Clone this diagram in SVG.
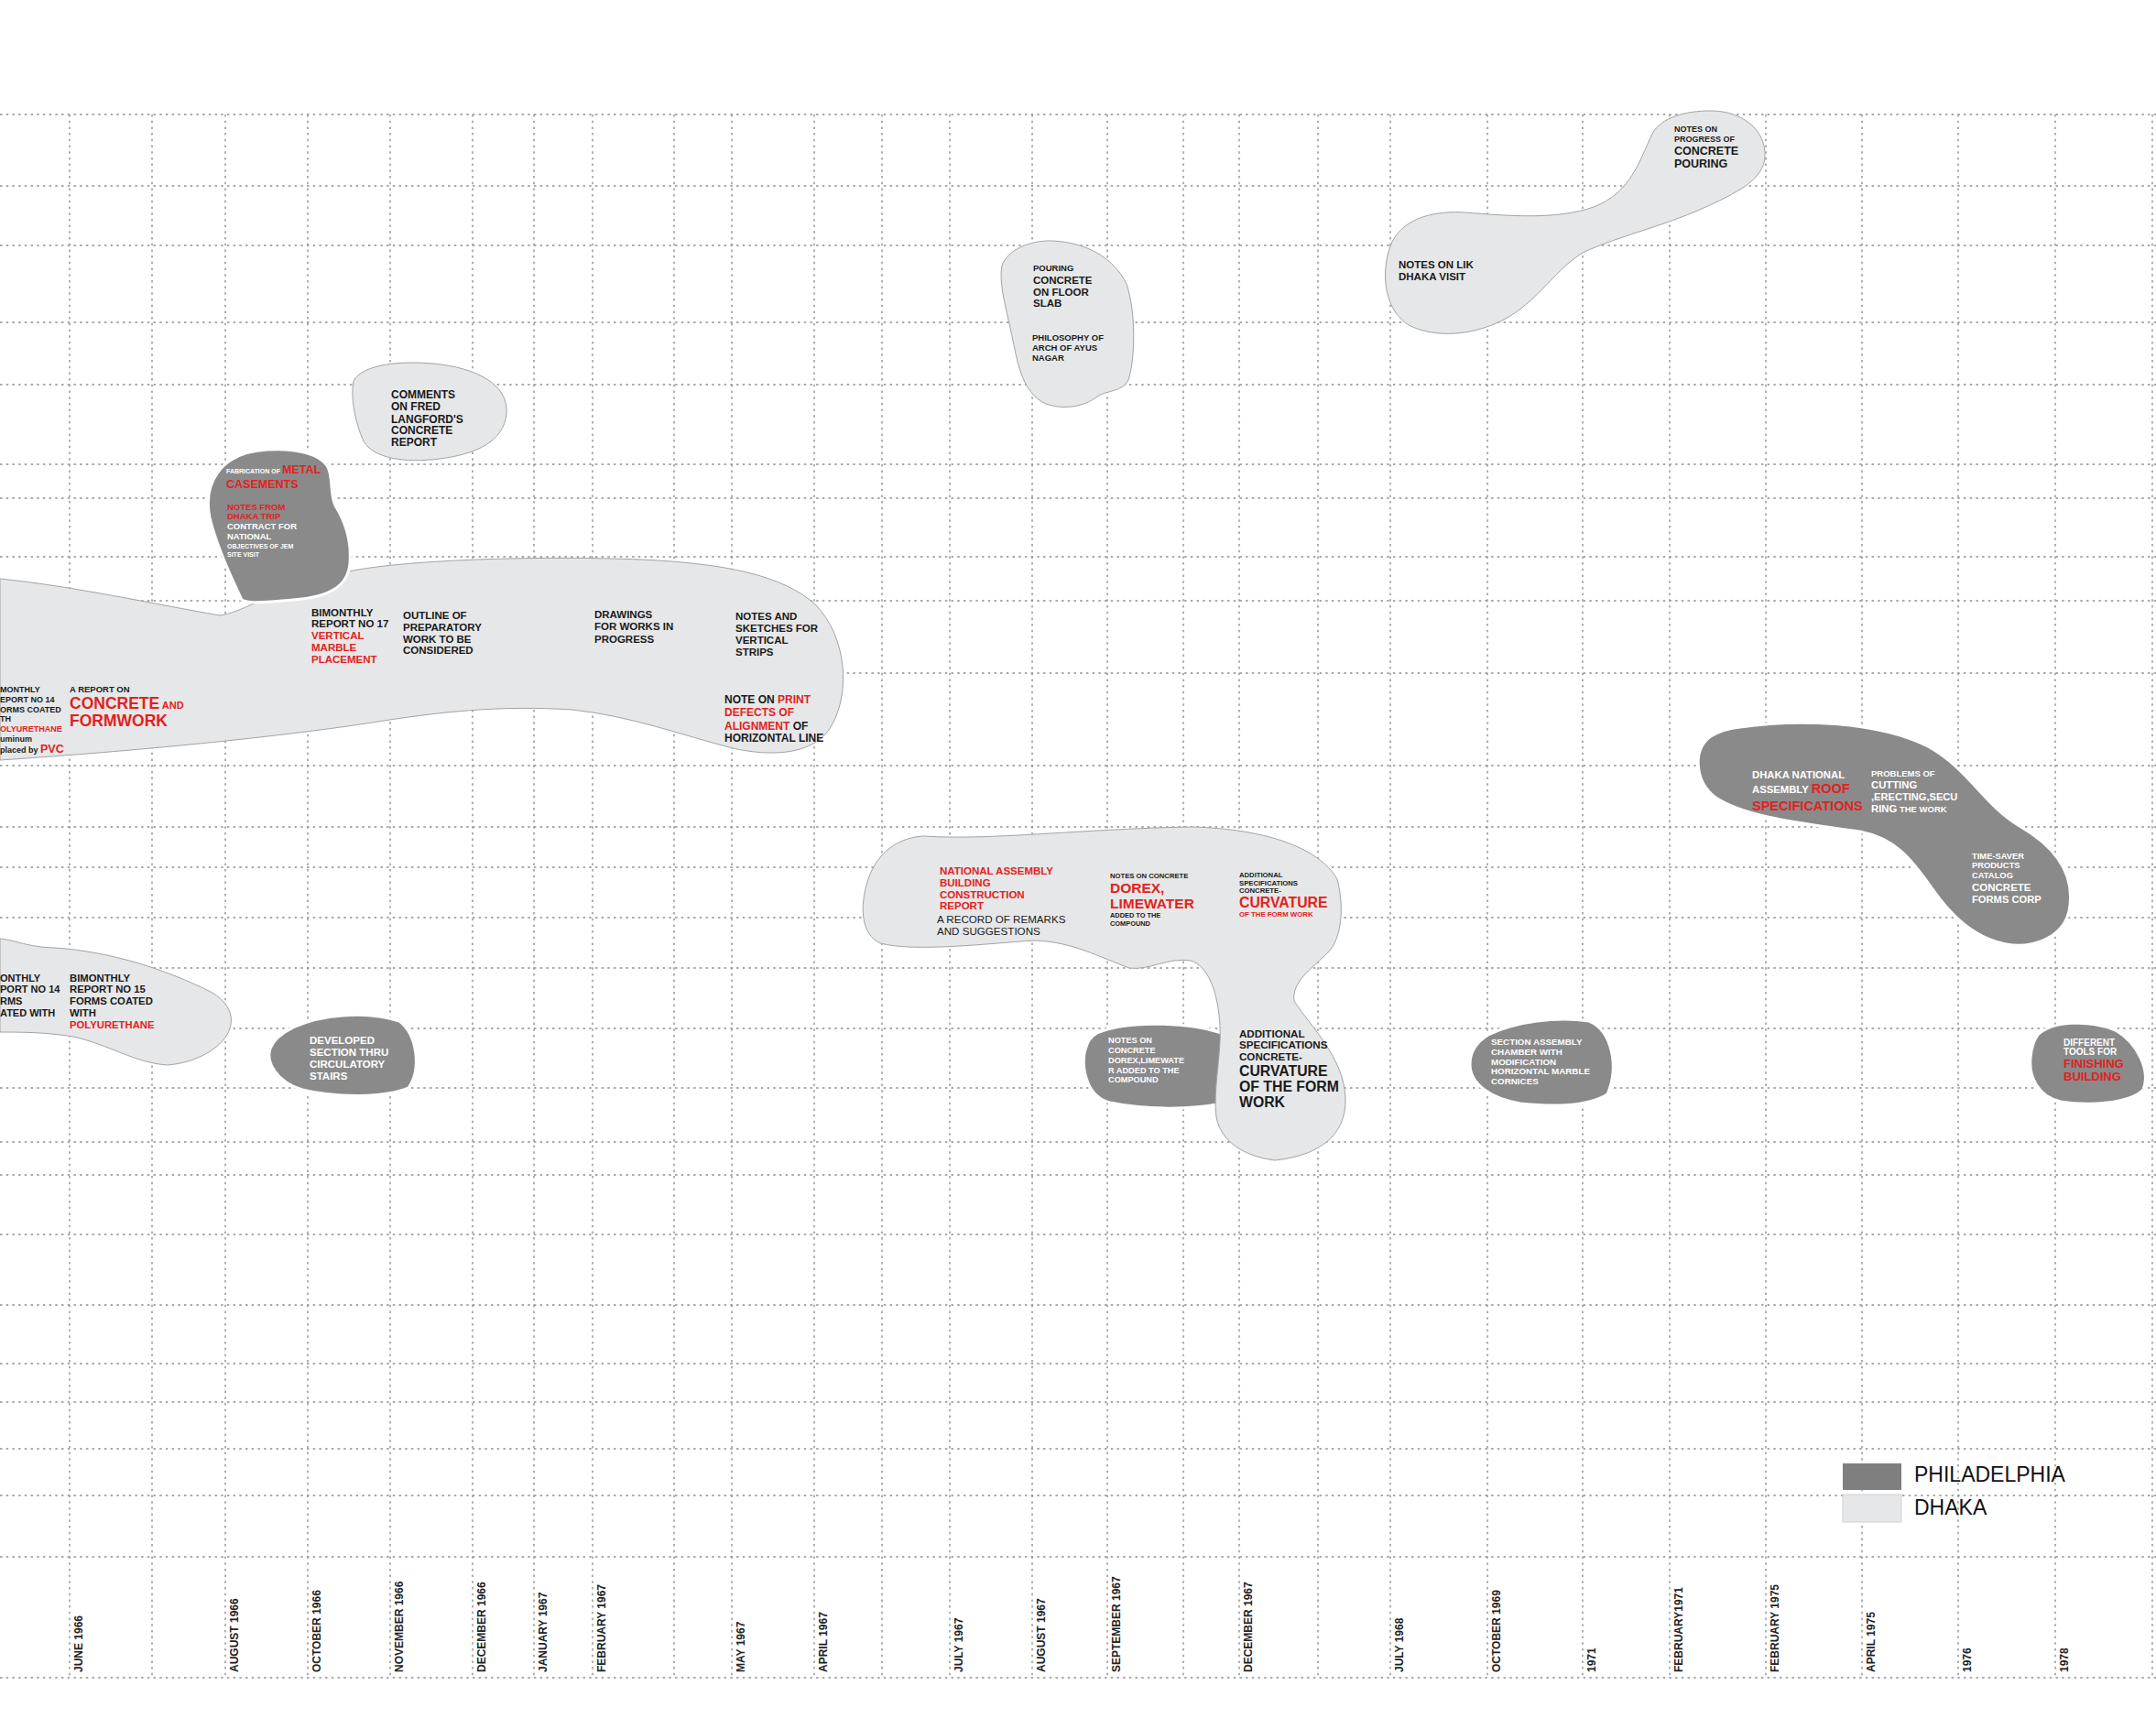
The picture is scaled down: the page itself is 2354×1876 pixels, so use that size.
<svg xmlns="http://www.w3.org/2000/svg" width="2354" height="1876" viewBox="0 0 2354 1876">
<style>
.bg{fill:#fff}
.gl{stroke:#8f8f8f;stroke-width:1.4;stroke-dasharray:2.5 4.2;fill:none}
.lt{fill:#e6e7e8;stroke:#a3a3a3;stroke-width:1}
.dk{fill:#8a8a8a;stroke:#fff;stroke-width:3}
.t{font-family:'Liberation Sans',Arial,sans-serif;font-weight:bold;fill:#1a1a1a}
.nar{font-family:'Liberation Sans Narrow','Liberation Sans',Arial,sans-serif}
.n{font-weight:normal}
.w{fill:#fff}
.r{fill:#e2211c}
.ax{font-family:'Liberation Sans',Arial,sans-serif;font-size:12px;font-weight:bold;fill:#222}
.lg{font-family:'Liberation Sans',Arial,sans-serif;font-size:23px;fill:#111}
</style>
<rect class="bg" x="0" y="0" width="2354" height="1876"/>
<g id="grid">
<path class="gl" d="M0,125H2354M0,203H2354M0,268H2354M0,352H2354M0,420H2354M0,507H2354M0,544H2354M0,608H2354M0,656H2354M0,735H2354M0,836H2354M0,903H2354M0,947H2354M0,1002H2354M0,1057H2354M0,1123H2354M0,1188H2354M0,1247H2354M0,1283H2354M0,1348H2354M0,1425H2354M0,1489H2354M0,1531H2354M0,1582H2354M0,1633H2354M0,1700H2354M0,1832H2354"/>
<path class="gl" d="M76,125V1832M166,125V1832M246,125V1832M336,125V1832M426,125V1832M516,125V1832M583,125V1832M647,125V1832M736,125V1832M799,125V1832M889,125V1832M963,125V1832M1037,125V1832M1127,125V1832M1209,125V1832M1292,125V1832M1353,125V1832M1439,125V1832M1518,125V1832M1624,125V1832M1728,125V1832M1823,125V1832M1928,125V1832M2033,125V1832M2138,125V1832M2244,125V1832M2350,125V1832"/>
</g>
<g id="axis">
<text class="ax" transform="translate(90,1826) rotate(-90)">JUNE 1966</text>
<text class="ax" transform="translate(260,1826) rotate(-90)">AUGUST 1966</text>
<text class="ax" transform="translate(350,1826) rotate(-90)">OCTOBER 1966</text>
<text class="ax" transform="translate(440,1826) rotate(-90)">NOVEMBER 1966</text>
<text class="ax" transform="translate(530,1826) rotate(-90)">DECEMBER 1966</text>
<text class="ax" transform="translate(597,1826) rotate(-90)">JANUARY 1967</text>
<text class="ax" transform="translate(661,1826) rotate(-90)">FEBRUARY 1967</text>
<text class="ax" transform="translate(813,1826) rotate(-90)">MAY 1967</text>
<text class="ax" transform="translate(903,1826) rotate(-90)">APRIL 1967</text>
<text class="ax" transform="translate(1051,1826) rotate(-90)">JULY 1967</text>
<text class="ax" transform="translate(1141,1826) rotate(-90)">AUGUST 1967</text>
<text class="ax" transform="translate(1223,1826) rotate(-90)">SEPTEMBER 1967</text>
<text class="ax" transform="translate(1367,1826) rotate(-90)">DECEMBER 1967</text>
<text class="ax" transform="translate(1532,1826) rotate(-90)">JULY 1968</text>
<text class="ax" transform="translate(1638,1826) rotate(-90)">OCTOBER 1969</text>
<text class="ax" transform="translate(1742,1826) rotate(-90)">1971</text>
<text class="ax" transform="translate(1837,1826) rotate(-90)">FEBRUARY1971</text>
<text class="ax" transform="translate(1942,1826) rotate(-90)">FEBRUARY 1975</text>
<text class="ax" transform="translate(2047,1826) rotate(-90)">APRIL 1975</text>
<text class="ax" transform="translate(2152,1826) rotate(-90)">1976</text>
<text class="ax" transform="translate(2258,1826) rotate(-90)">1978</text>
</g>
<g id="connectors"></g>

<g id="node-concrete-formwork">
<path class="lt" d="M0,632 C80,640 170,660 240,672 C270,668 300,640 380,624 C450,610 600,607 700,611 C790,615 855,628 890,660 C925,695 930,760 905,797 C885,825 840,826 800,817 C745,803 690,782 625,775 C545,770 480,777 400,790 C300,805 150,820 0,830 Z"/>
<g class="t" font-size="9">
<text x="0" y="756">MONTHLY</text>
<text x="0" y="767">EPORT NO 14</text>
<text x="0" y="778">ORMS COATED</text>
<text x="0" y="788">TH</text>
<text x="0" y="799" class="r">OLYURETHANE</text>
<text x="0" y="810">uminum</text>
<text x="0" y="822">placed by <tspan class="r" font-size="12.5">PVC</tspan></text>
</g>
<text class="t" x="76" y="756" font-size="9.5">A REPORT ON</text>
<text class="t r" x="76" y="774" font-size="17.5">CONCRETE<tspan font-size="11"> AND</tspan></text>
<text class="t r" x="76" y="793" font-size="17.5">FORMWORK</text>
<g class="t" font-size="11.5">
<text x="340" y="673">BIMONTHLY</text>
<text x="340" y="685">REPORT NO 17</text>
<text x="340" y="698" class="r">VERTICAL</text>
<text x="340" y="711" class="r">MARBLE</text>
<text x="340" y="724" class="r">PLACEMENT</text>
<text x="440" y="676">OUTLINE OF</text>
<text x="440" y="689">PREPARATORY</text>
<text x="440" y="702">WORK TO BE</text>
<text x="440" y="714">CONSIDERED</text>
<text x="649" y="675">DRAWINGS</text>
<text x="649" y="688">FOR WORKS IN</text>
<text x="649" y="702">PROGRESS</text>
<text x="803" y="677">NOTES AND</text>
<text x="803" y="690">SKETCHES FOR</text>
<text x="803" y="703">VERTICAL</text>
<text x="803" y="716">STRIPS</text>
</g>
<g class="t" font-size="12">
<text x="791" y="768">NOTE ON <tspan class="r">PRINT</tspan></text>
<text x="791" y="782" class="r">DEFECTS OF</text>
<text x="791" y="797"><tspan class="r">ALIGNMENT</tspan> OF</text>
<text x="791" y="810">HORIZONTAL LINE</text>
</g>
</g>

<g id="node-metal-casements">
<path class="dk" d="M292,491 C325,489 350,496 358,510 C364,522 360,540 366,552 C376,568 384,590 382,615 C380,640 360,652 320,655 C295,657 275,660 264,655 C252,630 236,595 229,565 C222,530 238,494 292,491 Z"/>
<text class="t w" x="247" y="517" font-size="7">FABRICATION OF <tspan class="r" font-size="12.5">METAL</tspan></text>
<text class="t r" x="247" y="533" font-size="12.5">CASEMENTS</text>
<text class="t r" x="248" y="557" font-size="9.5">NOTES FROM</text>
<text class="t r" x="248" y="567" font-size="9.5">DHAKA TRIP</text>
<text class="t w" x="248" y="578" font-size="9.5">CONTRACT FOR</text>
<text class="t w" x="248" y="589" font-size="9.5">NATIONAL</text>
<text class="t w" x="248" y="599" font-size="7">OBJECTIVES OF JEM</text>
<text class="t w" x="248" y="608" font-size="7">SITE VISIT</text>
</g>

<g id="node-comments">
<path class="lt" d="M386,416 C396,397 440,394 472,397 C520,401 556,420 553,452 C550,482 520,496 480,501 C440,506 408,500 397,482 C389,464 382,436 386,416 Z"/>
<g class="t" font-size="12">
<text x="427" y="435">COMMENTS</text>
<text x="427" y="448">ON FRED</text>
<text x="427" y="462">LANGFORD'S</text>
<text x="427" y="474">CONCRETE</text>
<text x="427" y="487">REPORT</text>
</g>
</g>

<g id="node-pouring-slab">
<path class="lt" d="M1150,263 C1185,265 1215,280 1230,310 C1240,340 1240,390 1232,415 C1226,428 1208,426 1198,433 C1184,444 1162,448 1142,441 C1118,430 1112,402 1106,372 C1100,342 1090,310 1094,290 C1100,273 1124,262 1150,263 Z"/>
<text class="t" x="1128" y="296" font-size="9.5">POURING</text>
<text class="t" x="1128" y="310" font-size="11.5">CONCRETE</text>
<text class="t" x="1128" y="323" font-size="11.5">ON FLOOR</text>
<text class="t" x="1128" y="335" font-size="11.5">SLAB</text>
<text class="t" x="1127" y="372" font-size="9.5">PHILOSOPHY OF</text>
<text class="t" x="1127" y="383" font-size="9.5">ARCH OF AYUS</text>
<text class="t" x="1127" y="394" font-size="9.5">NAGAR</text>
</g>

<g id="node-lik-visit">
<path class="lt" d="M1868,121 C1902,121 1929,142 1927,172 C1925,196 1898,210 1858,228 C1818,246 1768,258 1732,274 C1700,290 1680,330 1640,350 C1608,366 1568,370 1538,355 C1508,336 1508,290 1520,264 C1534,236 1570,230 1600,232 C1650,236 1700,240 1740,226 C1780,211 1790,176 1804,146 C1814,128 1840,121 1868,121 Z"/>
<text class="t" x="1828" y="144" font-size="9">NOTES ON</text>
<text class="t" x="1828" y="155" font-size="9">PROGRESS OF</text>
<text class="t" x="1828" y="169" font-size="12.5">CONCRETE</text>
<text class="t" x="1828" y="183" font-size="12.5">POURING</text>
<text class="t" x="1527" y="293" font-size="11.5">NOTES ON LIK</text>
<text class="t" x="1527" y="306" font-size="11.5">DHAKA VISIT</text>
</g>

<g id="node-dorex-philadelphia">
<path class="dk" d="M1198,1128 C1225,1116 1290,1114 1334,1128 L1334,1205 C1300,1212 1250,1212 1212,1204 C1188,1198 1181,1170 1184,1150 C1187,1138 1190,1132 1198,1128 Z"/>
<g class="t w" font-size="9.2">
<text x="1210" y="1139">NOTES ON</text>
<text x="1210" y="1150">CONCRETE</text>
<text x="1210" y="1161">DOREX,LIMEWATE</text>
<text x="1210" y="1172">R ADDED TO THE</text>
<text x="1210" y="1182">COMPOUND</text>
</g>
</g>

<g id="node-national-assembly">
<path class="lt" d="M1009,913 C1080,918 1180,905 1302,903 C1380,905 1440,925 1460,960 C1468,990 1465,1025 1450,1040 C1432,1058 1410,1072 1413,1093 C1430,1120 1468,1155 1469,1200 C1470,1240 1440,1262 1392,1267 C1355,1262 1333,1245 1328,1220 C1324,1190 1334,1150 1332,1120 C1330,1085 1320,1055 1300,1049 C1275,1045 1255,1060 1233,1057 C1200,1045 1170,1028 1129,1027 C1080,1030 1000,1040 961,1030 C940,1020 938,990 948,960 C958,930 982,914 1009,913 Z"/>
<g class="t r" font-size="11.5">
<text x="1026" y="955">NATIONAL ASSEMBLY</text>
<text x="1026" y="968">BUILDING</text>
<text x="1026" y="981">CONSTRUCTION</text>
<text x="1026" y="993">REPORT</text>
</g>
<text class="t n" x="1023" y="1008" font-size="11.6">A RECORD OF REMARKS</text>
<text class="t n" x="1023" y="1021" font-size="11.6">AND SUGGESTIONS</text>
<text class="t" x="1212" y="959" font-size="7.7">NOTES ON CONCRETE</text>
<text class="t r" x="1212" y="975" font-size="15.5">DOREX,</text>
<text class="t r" x="1212" y="992" font-size="15.5">LIMEWATER</text>
<text class="t" x="1212" y="1002" font-size="7.4">ADDED TO THE</text>
<text class="t" x="1212" y="1011" font-size="7.4">COMPOUND</text>
<text class="t" x="1353" y="958" font-size="7.7">ADDITIONAL</text>
<text class="t" x="1353" y="967" font-size="7.7">SPECIFICATIONS</text>
<text class="t" x="1353" y="975" font-size="7.7">CONCRETE-</text>
<text class="t r" x="1353" y="991" font-size="15.8">CURVATURE</text>
<text class="t r" x="1353" y="1001" font-size="7.8">OF THE FORM WORK</text>
<text class="t" x="1353" y="1133" font-size="11.6">ADDITIONAL</text>
<text class="t" x="1353" y="1145" font-size="11.6">SPECIFICATIONS</text>
<text class="t" x="1353" y="1158" font-size="11.6">CONCRETE-</text>
<text class="t" x="1353" y="1175" font-size="15.8">CURVATURE</text>
<text class="t" x="1353" y="1192" font-size="15.8">OF THE FORM</text>
<text class="t" x="1353" y="1209" font-size="15.8">WORK</text>
</g>

<g id="node-report-15">
<path class="lt" d="M0,1025 C20,1027 28,1034 60,1035 C120,1039 180,1058 230,1083 C248,1093 256,1108 251,1123 C245,1142 218,1160 183,1163 C148,1161 120,1141 80,1132 C50,1127 20,1127 0,1127 Z"/>
<g class="t" font-size="11">
<text x="0" y="1072">ONTHLY</text>
<text x="0" y="1084">PORT NO 14</text>
<text x="0" y="1097">RMS</text>
<text x="0" y="1110">ATED WITH</text>
</g>
<g class="t" font-size="11.3">
<text x="76" y="1072">BIMONTHLY</text>
<text x="76" y="1084">REPORT NO 15</text>
<text x="76" y="1097">FORMS COATED</text>
<text x="76" y="1110">WITH</text>
<text x="76" y="1123" class="r">POLYURETHANE</text>
</g>
</g>

<g id="node-stairs">
<path class="dk" d="M320,1122 C352,1107 402,1104 436,1115 C456,1130 460,1168 446,1188 C420,1199 368,1199 330,1190 C302,1181 290,1160 295,1145 C299,1135 308,1128 320,1122 Z"/>
<g class="t w" font-size="11.5">
<text x="338" y="1140">DEVELOPED</text>
<text x="338" y="1153">SECTION THRU</text>
<text x="338" y="1166">CIRCULATORY</text>
<text x="338" y="1179">STAIRS</text>
</g>
</g>

<g id="node-roof-specs">
<path class="dk" d="M1900,794 C1960,785 2050,787 2105,815 C2150,840 2165,878 2205,902 C2250,928 2266,960 2259,995 C2252,1025 2218,1036 2190,1031 C2155,1024 2130,1000 2108,968 C2088,940 2070,915 2030,908 C1970,899 1905,893 1872,870 C1850,852 1848,818 1868,804 C1878,798 1889,795 1900,794 Z"/>
<text class="t w" x="1913" y="850" font-size="11.3">DHAKA NATIONAL</text>
<text class="t w" x="1913" y="866" font-size="11.3">ASSEMBLY <tspan class="r" font-size="14.5">ROOF</tspan></text>
<text class="t r" x="1913" y="885" font-size="14.5">SPECIFICATIONS</text>
<text class="t w" x="2043" y="848" font-size="9.5">PROBLEMS OF</text>
<text class="t w" x="2043" y="861" font-size="11.3">CUTTING</text>
<text class="t w" x="2043" y="874" font-size="11.1">,ERECTING,SECU</text>
<text class="t w" x="2043" y="887" font-size="11.3">RING<tspan font-size="9.5"> THE WORK</tspan></text>
<text class="t w" x="2153" y="938" font-size="9.4">TIME-SAVER</text>
<text class="t w" x="2153" y="948" font-size="9.4">PRODUCTS</text>
<text class="t w" x="2153" y="959" font-size="9.4">CATALOG</text>
<text class="t w" x="2153" y="973" font-size="11.5">CONCRETE</text>
<text class="t w" x="2153" y="986" font-size="11.2">FORMS CORP</text>
</g>

<g id="node-assembly-chamber">
<path class="dk" d="M1625,1130 C1655,1115 1700,1110 1735,1115 C1760,1125 1768,1165 1755,1195 C1730,1210 1690,1208 1660,1205 C1630,1200 1605,1185 1605,1162 C1605,1148 1612,1138 1625,1130 Z"/>
<g class="t w nar" font-size="9.8">
<text x="1628" y="1141">SECTION ASSEMBLY</text>
<text x="1628" y="1152">CHAMBER WITH</text>
<text x="1628" y="1163">MODIFICATION</text>
<text x="1628" y="1173">HORIZONTAL MARBLE</text>
<text x="1628" y="1184">CORNICES</text>
</g>
</g>

<g id="node-finishing-tools">
<path class="dk" d="M2225,1130 C2240,1115 2280,1113 2310,1125 C2335,1140 2348,1170 2340,1190 C2325,1205 2280,1208 2250,1203 C2225,1198 2215,1175 2217,1155 C2218,1145 2220,1137 2225,1130 Z"/>
<text class="t w nar" x="2253" y="1142" font-size="10">DIFFERENT</text>
<text class="t w nar" x="2253" y="1152" font-size="10">TOOLS FOR</text>
<text class="t r nar" x="2253" y="1166" font-size="13">FINISHING</text>
<text class="t r nar" x="2253" y="1180" font-size="13">BUILDING</text>
</g>

<g id="legend">
<rect x="2012" y="1598" width="64" height="29" fill="#7f7f7f"/>
<rect x="2012" y="1632" width="64" height="30" fill="#e6e7e8" stroke="#cfcfcf" stroke-width="1"/>
<text class="lg" x="2090" y="1618">PHILADELPHIA</text>
<text class="lg" x="2090" y="1654">DHAKA</text>
</g>
</svg>
